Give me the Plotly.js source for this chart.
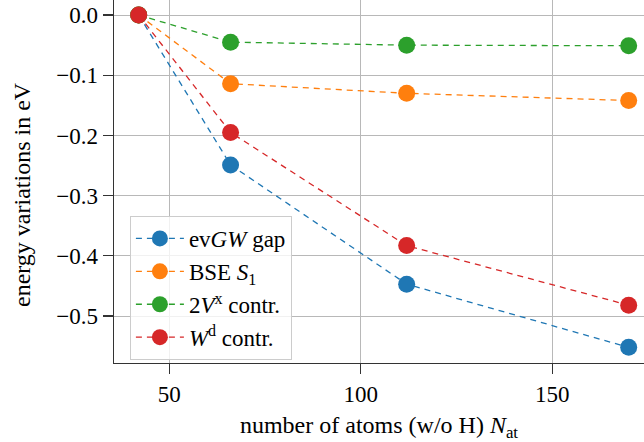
<!DOCTYPE html>
<html>
<head>
<meta charset="utf-8">
<script src="https://cdn.plot.ly/plotly-3.0.1.min.js"></script>
<style>html,body{margin:0;padding:0;background:#fff;}#chart{width:644px;height:442px;}</style>
</head>
<body>
<div id="chart"></div>
<script>
const nAtoms = [42, 66, 112, 170];
const evGWGap = [0, -0.249, -0.447, -0.552];
const bseS1 = [0, -0.114, -0.130, -0.142];
const vxContr = [0, -0.045, -0.050, -0.051];
const wdContr = [0, -0.195, -0.383, -0.482];
const seriesNames = ['ev<i>GW</i> gap', 'BSE <i>S</i><sub>1</sub>', '2<i>V</i><sup>x</sup> contr.', '<i>W</i><sup>d</sup> contr.'];
const colors = ['#1f77b4', '#ff7f0e', '#2ca02c', '#d62728'];
const allSeries = [evGWGap, bseS1, vxContr, wdContr];
const xTickVals = [50, 100, 150];
const xTickText = ['50', '100', '150'];
const yTickVals = [0, -0.1, -0.2, -0.3, -0.4, -0.5];
const yTickText = ['0.0', '\u22120.1', '\u22120.2', '\u22120.3', '\u22120.4', '\u22120.5'];
const xTitle = 'number of atoms (w/o H) <i>N</i><sub>at</sub>';
const yTitle = 'energy variations in eV';

const font = 'Liberation Serif';
const fs = 23;
const traces = allSeries.map((ys, i) => ({
  x: nAtoms, y: ys, name: seriesNames[i], type: 'scatter', mode: 'lines+markers',
  line: {color: colors[i], width: 1.3, dash: '6px,5px'},
  marker: {color: colors[i], size: 17, line: {width: 0}},
  cliponaxis: false
}));

const layout = {
  width: 644, height: 442,
  margin: {l: 114, r: 0, t: 0, b: 79},
  paper_bgcolor: '#fff', plot_bgcolor: '#fff',
  font: {family: font, size: fs, color: '#000'},
  xaxis: {
    range: [35.55, 174], tickmode: 'array', tickvals: xTickVals, ticktext: xTickText,
    tickfont: {family: font, size: fs, color: '#000'},
    showgrid: true, gridcolor: '#b8b8b8', gridwidth: 1,
    showline: true, linecolor: '#333', linewidth: 1.3,
    ticks: 'outside', ticklen: 10, tickcolor: '#333', tickwidth: 1.2,
    zeroline: false,
    title: {text: xTitle, font: {family: font, size: 24, color: '#000'}, standoff: 17}
  },
  yaxis: {
    range: [-0.578, 0.025], tickmode: 'array', tickvals: yTickVals, ticktext: yTickText,
    tickfont: {family: font, size: fs, color: '#000'},
    showgrid: true, gridcolor: '#b8b8b8', gridwidth: 1,
    showline: true, linecolor: '#333', linewidth: 1.3,
    ticks: 'outside', ticklen: 10, tickcolor: '#333', tickwidth: 1.2,
    zeroline: false
  },
  annotations: [{
    text: yTitle, xref: 'paper', yref: 'paper',
    x: (22 - 114) / 530, y: 1 - 195 / 363, xanchor: 'center', yanchor: 'middle',
    textangle: -90, showarrow: false, font: {family: font, size: 24, color: '#000'}
  }],
  showlegend: true,
  legend: {
    x: 0.03, y: 0.405, xanchor: 'left', yanchor: 'top',
    bgcolor: 'rgba(255,255,255,0.8)', bordercolor: '#cccccc', borderwidth: 1,
    font: {family: font, size: 23, color: '#000'}, tracegroupgap: 0, itemwidth: 48
  }
};

Plotly.newPlot('chart', traces, layout, {displayModeBar: false, staticPlot: true});
</script>
</body>
</html>
